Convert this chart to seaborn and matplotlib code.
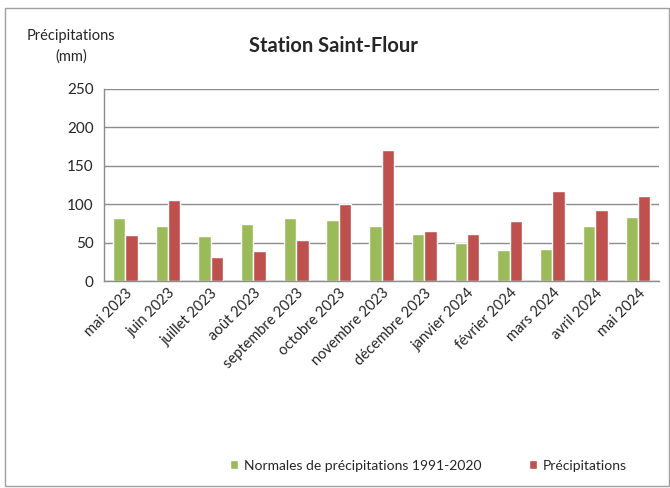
import pandas as pd
import seaborn as sns
import matplotlib.pyplot as plt
from matplotlib.patches import Rectangle
from matplotlib.ticker import FixedLocator

# monthly data
months = ["mai 2023", "juin 2023", "juillet 2023", "août 2023", "septembre 2023",
          "octobre 2023", "novembre 2023", "décembre 2023", "janvier 2024",
          "février 2024", "mars 2024", "avril 2024", "mai 2024"]
normales = [82, 72, 59, 74, 82, 80, 71, 61, 50, 41, 42, 71, 83]
precip = [60, 105, 31, 39, 53, 100, 170, 65, 61, 78, 117, 92, 111]
series = ["Normales de précipitations 1991-2020", "Précipitations"]

df = pd.DataFrame({
    "mois": months * 2,
    "mm": normales + precip,
    "serie": [series[0]] * len(months) + [series[1]] * len(months),
})

sns.set_style("white")
plt.rcParams["font.family"] = ["Lato", "DejaVu Sans"]

fig = plt.figure(figsize=(6.7, 4.88), dpi=100)
ax = fig.add_axes([0.155, 0.424, 0.829, 0.394])

sns.barplot(
    data=df, x="mois", y="mm", hue="serie",
    palette=["#9BBB59", "#C0504D"], width=0.58, ax=ax,
    saturation=1, legend=True,
)

ax.set_ylim(0, 250)
ax.set_xlim(-0.5, len(months) - 0.5)
ax.set_yticks(range(0, 251, 50))
ax.grid(axis="y", color="#8c8c8c", linewidth=1)
ax.set_axisbelow(True)
for s in ["top", "right"]:
    ax.spines[s].set_visible(False)
for s in ["left", "bottom"]:
    ax.spines[s].set_color("#8c8c8c")
    ax.spines[s].set_linewidth(1)

ax.set_xlabel("")
ax.set_ylabel("")
ax.tick_params(axis="x", which="major", length=0, labelsize=10.5)
ax.xaxis.set_minor_locator(FixedLocator([i - 0.5 for i in range(len(months) + 1)]))
ax.tick_params(axis="x", which="minor", length=4, color="#8c8c8c", direction="out")
ax.tick_params(axis="y", length=4, color="#8c8c8c", direction="out", labelsize=11)
plt.setp(ax.get_xticklabels(), rotation=45, ha="right", rotation_mode="anchor")

fig.text(0.106, 0.905, "Précipitations\n(mm)", ha="center", va="center",
         fontsize=10.5, linespacing=1.5)
fig.text(0.497, 0.905, "Station Saint-Flour", ha="center", va="center",
         fontsize=14.5, fontweight="bold")

ax.legend(loc="center", bbox_to_anchor=(0.584, -0.96), ncol=2, frameon=False,
          fontsize=10, handlelength=0.6, handleheight=0.6, columnspacing=3.4,
          handletextpad=0.4)

fig.patches.append(Rectangle((0.008, 0.005), 0.99, 0.978, transform=fig.transFigure,
                             fill=False, edgecolor="#a0a0a0", linewidth=1))

fig.savefig("out.png", dpi=100)
